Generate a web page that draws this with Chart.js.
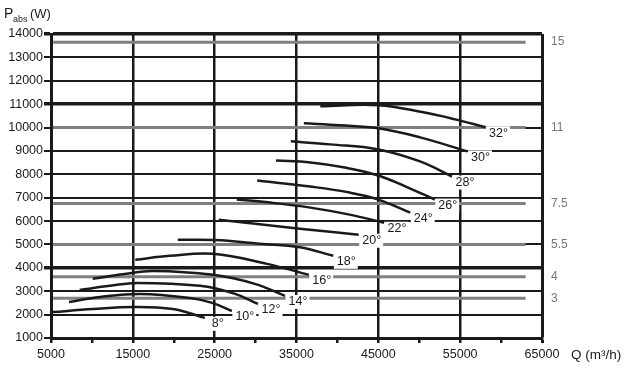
<!DOCTYPE html>
<html>
<head>
<meta charset="utf-8">
<script src="https://cdn.jsdelivr.net/npm/chart.js"></script>
<style>
  html, body { margin: 0; padding: 0; background: #fff; }
  #wrap { width: 631px; height: 368px; }
</style>
</head>
<body>
<div id="wrap"><canvas id="fanChart" width="631" height="368"></canvas></div>
<script>
// blade angle curves: [Q (m3/h), P abs (W)]
const angleLabels = ['8°', '10°', '12°', '14°', '16°', '18°', '20°', '22°', '24°', '26°', '28°', '30°', '32°'];
const curve8  = [[5200, 2110], [10100, 2240], [15000, 2330], [19900, 2240], [23800, 1860]];
const curve10 = [[7200, 2540], [11000, 2755], [15900, 2885], [22000, 2710], [24700, 2500], [27100, 2155]];
const curve12 = [[8500, 3055], [12200, 3230], [15500, 3355], [23200, 3230], [27500, 2885], [30300, 2455]];
const curve14 = [[10100, 3530], [14000, 3740], [17500, 3870], [24800, 3700], [29900, 3315], [33600, 2800]];
const curve16 = [[15300, 4345], [19500, 4515], [24800, 4600], [31400, 4170], [36500, 3700]];
const curve18 = [[20500, 5200], [25000, 5190], [30500, 5030], [35400, 4880], [39500, 4515]];
const curve20 = [[25500, 6060], [30500, 5860], [35400, 5675], [39100, 5545], [42600, 5415]];
const curve22 = [[27700, 6920], [31800, 6790], [36700, 6575], [41500, 6275], [45700, 5930]];
const curve24 = [[30200, 7735], [36700, 7475], [41500, 7220], [45000, 6920], [48900, 6360]];
const curve26 = [[32500, 8590], [36700, 8505], [40900, 8290], [45000, 7950], [48900, 7390], [51900, 6920]];
const curve28 = [[34300, 9410], [39100, 9280], [45000, 9065], [50100, 8550], [54000, 7905]];
const curve30 = [[35900, 10180], [40300, 10095], [45000, 9965], [50100, 9580], [55900, 8980]];
const curve32 = [[37900, 10910], [45000, 10955], [50500, 10650], [54400, 10350], [58100, 10010]];
const curves = [curve8, curve10, curve12, curve14, curve16, curve18, curve20, curve22, curve24, curve26, curve28, curve30, curve32];

// motor power levels (kW) drawn as grey lines
const motorPower = [13650, 10000, 6750, 5000, 3620, 2700];
const motorLabels = ['15', '11', '7.5', '5.5', '4', '3'];
const motorFrom = 5250;
const motorTo = 63000;

const xTickLabels = ['5000', '15000', '25000', '35000', '45000', '55000', '65000'];
const yTickLabels = ['1000', '2000', '3000', '4000', '5000', '6000', '7000', '8000', '9000', '10000', '11000', '12000', '13000', '14000'];

const FONT = '"Liberation Sans", Arial, sans-serif';
Chart.defaults.font.family = FONT;
Chart.defaults.font.size = 12;
Chart.defaults.color = '#1a1a1a';

const extras = {
    id: 'extras',
    afterDatasetsDraw(chart) {
        const ctx = chart.ctx;
        const y = chart.scales.y;
        const area = chart.chartArea;
        ctx.save();

        // angle labels at the end of each curve
        ctx.font = '12.5px ' + FONT;
        ctx.textAlign = 'center';
        ctx.textBaseline = 'middle';
        chart.data.datasets.forEach((ds, i) => {
            if (!ds.angle) return;
            const pts = chart.getDatasetMeta(i).data;
            const last = pts[pts.length - 1];
            const lx = last.x + 13, ly = last.y + 6;
            const w = ctx.measureText(ds.angle).width;
            ctx.fillStyle = '#fff';
            ctx.fillRect(lx - w / 2 - 3, ly - 7, w + 5, 14);
            ctx.fillStyle = '#1a1a1a';
            ctx.fillText(ds.angle, lx, ly);
        });

        // motor power labels on the right
        ctx.fillStyle = '#777';
        ctx.textAlign = 'left';
        ctx.font = '12px ' + FONT;
        motorPower.forEach((p, i) => {
            ctx.fillText(motorLabels[i], area.right + 9, y.getPixelForValue(p));
        });

        // axis titles
        ctx.fillStyle = '#1a1a1a';
        ctx.textBaseline = 'alphabetic';
        ctx.font = '14px ' + FONT;
        ctx.fillText('P', 4, 18);
        ctx.font = '13px ' + FONT;
        ctx.fillText('(W)', 30, 18);
        ctx.font = '9px ' + FONT;
        ctx.fillText('abs', 13, 22);
        ctx.font = '13.5px ' + FONT;
        ctx.fillText('Q (m³/h)', 571, 359);
        ctx.restore();
    }
};

const datasets = [];
motorPower.forEach(p => {
    datasets.push({
        data: [{ x: motorFrom, y: p }, { x: motorTo, y: p }],
        showLine: true, borderColor: '#808080', borderWidth: 3, pointRadius: 0, order: 2
    });
});
curves.forEach((c, i) => {
    datasets.push({
        data: c.map(([q, p]) => ({ x: q, y: p })),
        angle: angleLabels[i],
        showLine: true, borderColor: '#1a1a1a', borderWidth: 2.5, pointRadius: 0,
        tension: 0.4, order: 1
    });
});

new Chart(document.getElementById('fanChart'), {
    type: 'scatter',
    data: { datasets },
    options: {
        responsive: false,
        animation: false,
        layout: { padding: { top: 34, right: 89, left: 0, bottom: 0 } },
        plugins: { legend: { display: false }, tooltip: { enabled: false } },
        scales: {
            x: {
                type: 'linear', min: 5000, max: 65000,
                afterFit: s => { s.height = 30; },
                border: { color: '#1a1a1a', width: 3 },
                grid: {
                    color: c => xTickLabels.includes(String(c.tick.value)) ? '#1a1a1a' : 'rgba(0,0,0,0)',
                    tickColor: '#1a1a1a',
                    lineWidth: c => c.tick.value === 65000 ? 3 : 2.5,
                    tickLength: 5
                },
                ticks: {
                    stepSize: 5000, autoSkip: false, maxRotation: 0, padding: 4,
                    font: { size: 12.5 },
                    callback: v => xTickLabels.includes(String(v)) ? String(v) : ''
                }
            },
            y: {
                type: 'linear', min: 1000, max: 14000,
                afterFit: s => { s.width = 51; },
                border: { color: '#1a1a1a', width: 3 },
                grid: {
                    color: '#1a1a1a',
                    lineWidth: c => (c.tick.value === 4000 || c.tick.value === 11000 || c.tick.value === 14000) ? 3.5 : 2,
                    tickLength: 7
                },
                ticks: {
                    stepSize: 1000, padding: 1,
                    font: { size: 12.5 },
                    callback: v => yTickLabels.includes(String(v)) ? String(v) : ''
                }
            }
        }
    },
    plugins: [extras]
});
</script>
</body>
</html>
